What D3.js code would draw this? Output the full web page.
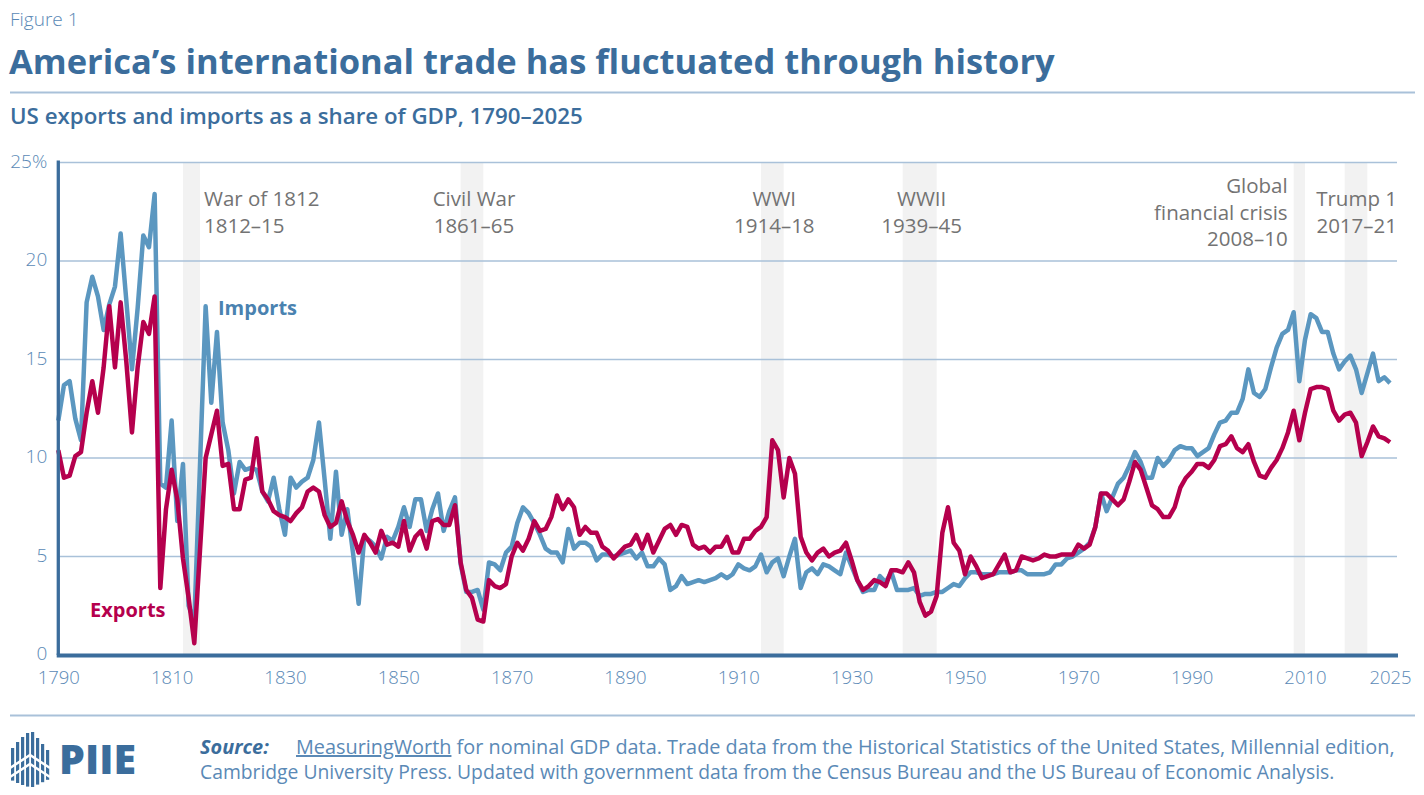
<!DOCTYPE html>
<html>
<head>
<meta charset="utf-8">
<script src="https://cdn.jsdelivr.net/npm/d3@7"></script>
<style>
  body { margin: 0; background: #fff; }
  text { font-family: "Open Sans", "Noto Sans", sans-serif; }
</style>
</head>
<body>
<div id="chart"></div>
<script>
// annual values, % of GDP, 1790-2025
const years = d3.range(1790, 2026);

const imports = [
  11.9, 13.7, 13.9, 12.0, 10.9, 17.9, 19.2, 18.2, 16.5, 17.8, // 1790s
  18.7, 21.4, 18.0, 14.5, 17.6, 21.3, 20.7, 23.4, 8.7, 8.5,   // 1800s
  11.9, 6.8, 9.7, 2.5, 1.7, 9.6, 17.7, 12.8, 16.4, 11.8,      // 1810s
  10.4, 8.2, 9.8, 9.4, 9.5, 9.4, 8.3, 7.8, 9.0, 7.4,          // 1820s
  6.1, 9.0, 8.5, 8.8, 9.0, 9.9, 11.8, 8.9, 5.9, 9.3,          // 1830s
  6.1, 7.4, 5.2, 2.6, 6.0, 5.8, 5.5, 4.9, 6.0, 5.8,           // 1840s
  6.5, 7.5, 6.5, 7.9, 7.9, 6.3, 7.4, 8.2, 6.3, 7.3,           // 1850s
  8.0, 4.6, 3.2, 3.2, 3.3, 2.3, 4.7, 4.6, 4.3, 5.2,           // 1860s
  5.5, 6.7, 7.5, 7.2, 6.7, 6.1, 5.4, 5.2, 5.2, 4.7,           // 1870s
  6.4, 5.4, 5.7, 5.7, 5.5, 4.8, 5.1, 5.1, 5.0, 5.1,           // 1880s
  5.2, 5.3, 4.9, 5.2, 4.5, 4.5, 4.9, 4.6, 3.3, 3.5,           // 1890s
  4.0, 3.6, 3.7, 3.8, 3.7, 3.8, 3.9, 4.1, 3.9, 4.1,           // 1900s
  4.6, 4.4, 4.3, 4.5, 5.1, 4.2, 4.7, 4.9, 4.0, 5.0,           // 1910s
  5.9, 3.4, 4.2, 4.4, 4.1, 4.6, 4.5, 4.3, 4.1, 5.2,           // 1920s
  4.5, 3.8, 3.2, 3.3, 3.3, 4.0, 3.7, 4.2, 3.3, 3.3,           // 1930s
  3.3, 3.4, 3.0, 3.1, 3.1, 3.2, 3.2, 3.4, 3.6, 3.5,           // 1940s
  3.9, 4.2, 4.2, 4.1, 4.1, 4.1, 4.2, 4.2, 4.2, 4.3,           // 1950s
  4.3, 4.1, 4.1, 4.1, 4.1, 4.2, 4.6, 4.6, 4.9, 5.0,           // 1960s
  5.2, 5.4, 5.7, 6.5, 8.2, 7.3, 8.0, 8.7, 9.0, 9.6,           // 1970s
  10.3, 9.8, 9.0, 9.0, 10.0, 9.6, 9.9, 10.4, 10.6, 10.5,      // 1980s
  10.5, 10.1, 10.3, 10.5, 11.2, 11.8, 11.9, 12.3, 12.3, 13.0, // 1990s
  14.5, 13.3, 13.1, 13.5, 14.6, 15.6, 16.3, 16.5, 17.4, 13.9, // 2000s
  16.0, 17.3, 17.1, 16.4, 16.4, 15.3, 14.5, 14.9, 15.2, 14.5, // 2010s
  13.3, 14.3, 15.3, 13.9, 14.1, 13.8                          // 2020s
];

const exports = [
  10.4, 9.0, 9.1, 10.1, 10.3, 12.3, 13.9, 12.3, 14.6, 17.7,   // 1790s
  14.6, 17.9, 14.9, 11.3, 14.6, 16.9, 16.3, 18.2, 3.4, 7.4,   // 1800s
  9.4, 7.9, 4.9, 2.9, 0.6, 5.3, 10.0, 11.2, 12.4, 9.6,        // 1810s
  9.7, 7.4, 7.4, 8.9, 9.0, 11.0, 8.3, 7.9, 7.3, 7.1,          // 1820s
  7.0, 6.8, 7.2, 7.5, 8.3, 8.5, 8.3, 7.1, 6.5, 6.7,           // 1830s
  7.8, 6.8, 6.1, 5.2, 6.1, 5.7, 5.2, 6.3, 5.6, 5.7,           // 1840s
  5.5, 6.8, 5.3, 6.0, 6.3, 5.4, 6.8, 6.9, 6.6, 6.6,           // 1850s
  7.6, 4.7, 3.3, 2.9, 1.8, 1.7, 3.8, 3.5, 3.4, 3.6,           // 1860s
  5.0, 5.7, 5.3, 5.9, 6.8, 6.3, 6.4, 7.0, 8.1, 7.4,           // 1870s
  7.9, 7.5, 6.1, 6.5, 6.2, 6.2, 5.5, 5.3, 4.9, 5.2,           // 1880s
  5.5, 5.6, 6.1, 5.4, 6.1, 5.2, 5.8, 6.4, 6.6, 6.1,           // 1890s
  6.6, 6.5, 5.6, 5.4, 5.5, 5.2, 5.5, 5.5, 6.0, 5.2,           // 1900s
  5.2, 5.9, 5.9, 6.3, 6.5, 7.0, 10.9, 10.4, 8.0, 10.0,        // 1910s
  9.2, 6.0, 5.2, 4.8, 5.2, 5.4, 5.0, 5.2, 5.3, 5.7,           // 1920s
  4.8, 3.8, 3.3, 3.5, 3.8, 3.7, 3.5, 4.3, 4.3, 4.2,           // 1930s
  4.7, 4.2, 2.7, 2.0, 2.2, 3.0, 6.2, 7.5, 5.7, 5.3,           // 1940s
  4.1, 5.0, 4.5, 3.9, 4.0, 4.1, 4.6, 5.1, 4.2, 4.3,           // 1950s
  5.0, 4.9, 4.8, 4.9, 5.1, 5.0, 5.0, 5.1, 5.1, 5.1,           // 1960s
  5.6, 5.4, 5.6, 6.5, 8.2, 8.2, 7.9, 7.6, 7.9, 8.8,           // 1970s
  9.8, 9.4, 8.5, 7.6, 7.4, 7.0, 7.0, 7.5, 8.5, 9.0,           // 1980s
  9.3, 9.7, 9.7, 9.5, 9.9, 10.6, 10.7, 11.1, 10.5, 10.3,      // 1990s
  10.7, 9.8, 9.1, 9.0, 9.5, 9.9, 10.5, 11.3, 12.4, 10.9,      // 2000s
  12.3, 13.5, 13.6, 13.6, 13.5, 12.4, 11.9, 12.2, 12.3, 11.8, // 2010s
  10.1, 10.8, 11.6, 11.1, 11.0, 10.8                          // 2020s
];

const yTicks = [0, 5, 10, 15, 20, 25];
const xTicks = [1790, 1810, 1830, 1850, 1870, 1890, 1910, 1930, 1950, 1970, 1990, 2010, 2025];

const eventNames = ["War of 1812", "Civil War", "WWI", "WWII", "Global financial crisis", "Trump 1"];
const eventStart = [1812, 1861, 1914, 1939, 2008, 2017];
const eventEnd   = [1815, 1865, 1918, 1945, 2010, 2021];
const eventLines = [
  ["War of 1812", "1812–15"],
  ["Civil War", "1861–65"],
  ["WWI", "1914–18"],
  ["WWII", "1939–45"],
  ["Global", "financial crisis", "2008–10"],
  ["Trump 1", "2017–21"]
];

const width = 1424, height = 795;
const blueDark = "#3b6d9c", blueText = "#5a89b6", gridColor = "#a9c1d9";
const importColor = "#5b97c0", exportColor = "#b5004d";

const svg = d3.select("#chart")
  .append("svg")
  .attr("width", width)
  .attr("height", height);

const x = d3.scaleLinear().domain([1790, 2025]).range([58.3, 1390]);
const y = d3.scaleLinear().domain([0, 25]).range([655, 162.5]);
const plotRight = 1397;

// scale font so the text spans the same width as the original
function fitWidth(sel, target) {
  const w = sel.node().getBBox().width;
  const fs = parseFloat(sel.style("font-size"));
  sel.style("font-size", (fs * target / w) + "px");
}

// header
svg.append("text")
  .attr("x", 10).attr("y", 26)
  .style("font-size", "19px")
  .style("font-weight", 300)
  .attr("fill", blueText)
  .text("Figure 1");

const title = svg.append("text")
  .attr("x", 9).attr("y", 74)
  .style("font-size", "32px")
  .style("font-weight", 700)
  .attr("fill", blueDark)
  .text("America’s international trade has fluctuated through history");

svg.append("line")
  .attr("x1", 10).attr("x2", 1415)
  .attr("y1", 92.5).attr("y2", 92.5)
  .attr("stroke", gridColor).attr("stroke-width", 2);

const subtitle = svg.append("text")
  .attr("x", 10).attr("y", 124)
  .style("font-size", "19px")
  .style("font-weight", 600)
  .attr("fill", blueDark)
  .text("US exports and imports as a share of GDP, 1790–2025");

fitWidth(title, 1047);
fitWidth(subtitle, 573);

// shaded periods
const events = eventNames.map((name, i) => ({name, start: eventStart[i], end: eventEnd[i], lines: eventLines[i]}));

svg.append("g")
  .selectAll("rect")
  .data(events)
  .join("rect")
  .attr("x", d => x(d.start))
  .attr("y", y(25))
  .attr("width", d => x(d.end) - x(d.start))
  .attr("height", y(0) - y(25))
  .attr("fill", "#f2f2f2");

// gridlines
svg.append("g")
  .selectAll("line")
  .data(yTicks.filter(d => d > 0))
  .join("line")
  .attr("x1", x(1790)).attr("x2", plotRight)
  .attr("y1", d => y(d)).attr("y2", d => y(d))
  .attr("stroke", gridColor)
  .attr("stroke-width", 1.5);

// event labels
const evLabels = svg.append("g")
  .selectAll("text")
  .data(events)
  .join("text")
  .attr("fill", "#737373")
  .style("font-size", "20.5px")
  .attr("text-anchor", d => d.start === 1812 ? "start" : d.start === 2008 || d.start === 2017 ? "end" : "middle")
  .attr("x", d => {
    if (d.start === 1812) return x(d.end) + 4;
    if (d.start === 2008) return x(d.start) - 6;
    if (d.start === 2017) return plotRight;
    return x((d.start + d.end) / 2) + 2;
  });

evLabels.selectAll("tspan")
  .data(d => d.lines.map((l, i) => ({l, i, n: d.lines.length})))
  .join("tspan")
  .attr("x", function() { return d3.select(this.parentNode).attr("x"); })
  .attr("y", d => 219.5 + (d.i - (d.n - 1) / 2) * 26.5)
  .text(d => d.l);

// series
const line = d3.line()
  .x((d, i) => x(years[i]))
  .y(d => y(d));

svg.append("path")
  .datum(imports)
  .attr("fill", "none")
  .attr("stroke", importColor)
  .attr("stroke-width", 4.5)
  .attr("stroke-linejoin", "round")
  .attr("d", line);

svg.append("path")
  .datum(exports)
  .attr("fill", "none")
  .attr("stroke", exportColor)
  .attr("stroke-width", 4.5)
  .attr("stroke-linejoin", "round")
  .attr("d", line);

svg.append("text")
  .attr("x", 218).attr("y", 315)
  .style("font-size", "20px").style("font-weight", 700)
  .attr("fill", "#4a82b0")
  .text("Imports");

svg.append("text")
  .attr("x", 90).attr("y", 617)
  .style("font-size", "20px").style("font-weight", 700)
  .attr("fill", exportColor)
  .text("Exports");

// axes
const yAxis = d3.axisLeft(y)
  .tickValues(yTicks)
  .tickSize(0)
  .tickPadding(11)
  .tickFormat(d => d === 25 ? "25%" : d);

svg.append("g")
  .attr("transform", `translate(${x(1790)},0)`)
  .call(yAxis)
  .call(g => g.select(".domain").remove())
  .call(g => g.selectAll("text")
    .attr("fill", blueText)
    .attr("dy", "0.24em")
    .style("font-size", "19px")
    .style("font-weight", 300)
    .style("font-family", "\"Open Sans\", sans-serif"));

const xAxis = d3.axisBottom(x)
  .tickValues(xTicks)
  .tickSize(0)
  .tickPadding(16)
  .tickFormat(d3.format("d"));

svg.append("g")
  .attr("transform", `translate(0,${y(0)})`)
  .call(xAxis)
  .call(g => g.select(".domain").remove())
  .call(g => g.selectAll("text")
    .attr("fill", blueText)
    .style("font-size", "18.5px")
    .style("font-weight", 300)
    .style("font-family", "\"Open Sans\", sans-serif"));

svg.append("line")
  .attr("x1", x(1790)).attr("x2", x(1790))
  .attr("y1", y(25) - 2).attr("y2", y(0))
  .attr("stroke", blueDark).attr("stroke-width", 3.3);

svg.append("line")
  .attr("x1", x(1790) - 1.6).attr("x2", plotRight + 1)
  .attr("y1", y(0) + 0.5).attr("y2", y(0) + 0.5)
  .attr("stroke", blueDark).attr("stroke-width", 4);

// footer
svg.append("line")
  .attr("x1", 10).attr("x2", 1415)
  .attr("y1", 715.5).attr("y2", 715.5)
  .attr("stroke", gridColor).attr("stroke-width", 2);

const logo = svg.append("g").attr("transform", "translate(10,732)");
const barX = [1, 6, 11, 16, 21, 26, 31, 36];
const barTop = [16, 10, 5, 1, 0, 6, 12, 18];
logo.selectAll("rect")
  .data(barX)
  .join("rect")
  .attr("x", d => d)
  .attr("y", (d, i) => barTop[i])
  .attr("width", 3.2)
  .attr("height", (d, i) => 55 - barTop[i] * 1.4)
  .attr("fill", blueDark);
logo.append("path")
  .attr("d", "M0,36 L20,23 L40,36 M0,45 L20,32 L40,45")
  .attr("stroke", "#fff").attr("stroke-width", 2.5).attr("fill", "none");

svg.append("text")
  .attr("x", 59).attr("y", 774)
  .attr("textLength", 77)
  .attr("lengthAdjust", "spacingAndGlyphs")
  .style("font-size", "41px").style("font-weight", 800)
  .attr("fill", blueDark)
  .text("PIIE");

const src1 = svg.append("text")
  .attr("x", 200).attr("y", 754)
  .style("font-size", "17px")
  .attr("fill", blueText);
src1.append("tspan")
  .style("font-weight", 700).style("font-style", "italic")
  .attr("fill", blueDark)
  .text("Source:");
src1.append("tspan").attr("x", 296).text("MeasuringWorth").style("text-decoration", "underline");
src1.append("tspan").text(" for nominal GDP data. Trade data from the Historical Statistics of the United States, Millennial edition,");

const src2 = svg.append("text")
  .attr("x", 200).attr("y", 779)
  .style("font-size", "17px")
  .attr("fill", blueText)
  .text("Cambridge University Press. Updated with government data from the Census Bureau and the US Bureau of Economic Analysis.");

// stretch footer lines to the original widths
fitWidth(src1, 1211);
fitWidth(src2, 1135);
</script>
</body>
</html>
